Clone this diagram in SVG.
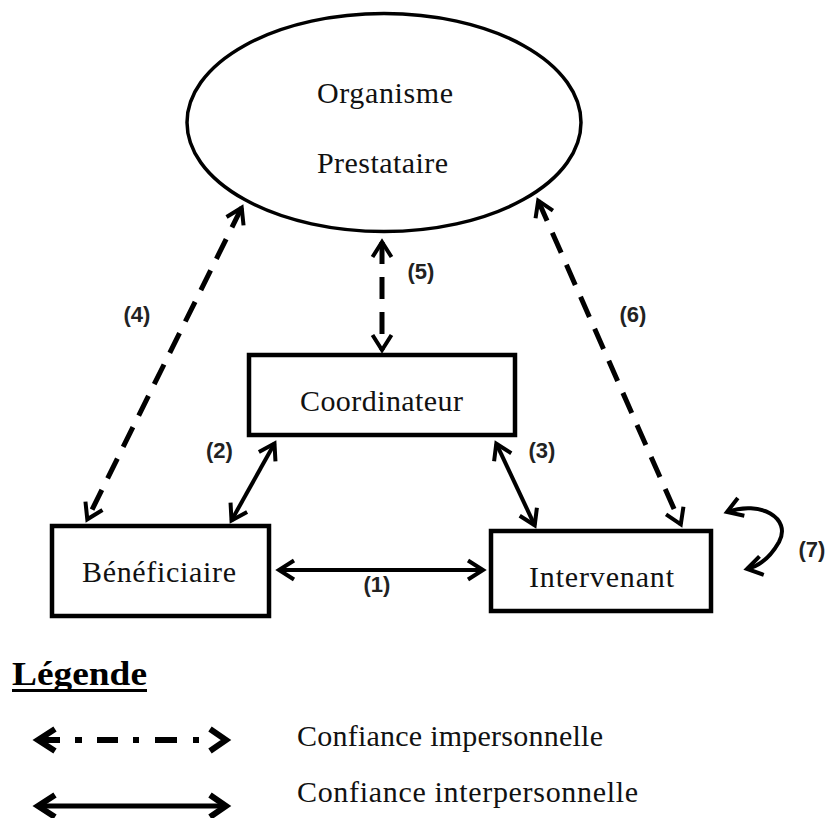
<svg xmlns="http://www.w3.org/2000/svg" width="829" height="818" viewBox="0 0 829 818">
  <style>
    .shape { fill: #ffffff; stroke: #000000; }
    .box { stroke-width: 4.5; }
    .node-text { font-family: "Liberation Serif", "Times New Roman", serif; font-size: 30px; fill: #111111; }
    .label { font-family: "Liberation Sans", Arial, sans-serif; font-size: 22px; font-weight: bold; fill: #222222; text-anchor: middle; }
    .solid { fill: none; stroke: #000000; stroke-width: 4; }
    .dashed { fill: none; stroke: #000000; stroke-width: 5; stroke-dasharray: 22 13; }
    .legend-text { font-family: "Liberation Serif", "Times New Roman", serif; font-size: 30px; fill: #111111; }
    .legend-title { font-family: "Liberation Serif", "Times New Roman", serif; font-size: 33px; font-weight: bold; fill: #000000; }
    .legend-line { fill: none; stroke: #000000; stroke-width: 6; stroke-linejoin: miter; }
  </style>
  <defs>
    <marker id="head" viewBox="0 0 22 22" markerWidth="22" markerHeight="22" refX="17" refY="11" orient="auto-start-reverse" markerUnits="userSpaceOnUse" overflow="visible">
      <path d="M2,1.5 L17,11 L2,20.5" fill="none" stroke="#000000" stroke-width="4" stroke-linejoin="miter"/>
    </marker>
  </defs>

  <g id="organisme-prestataire">
    <ellipse class="shape" cx="384" cy="122.5" rx="197" ry="109" stroke-width="3.5"/>
    <text class="node-text" x="317" y="103" textLength="136" lengthAdjust="spacing">Organisme</text>
    <text class="node-text" x="317" y="173" textLength="131" lengthAdjust="spacing">Prestataire</text>
  </g>

  <g id="coordinateur">
    <rect class="shape box" x="249" y="355" width="266" height="80"/>
    <text class="node-text" x="300" y="411" textLength="163" lengthAdjust="spacing">Coordinateur</text>
  </g>

  <g id="beneficiaire">
    <rect class="shape box" x="52" y="526" width="217" height="90"/>
    <text class="node-text" x="82" y="582" textLength="154" lengthAdjust="spacing">Bénéficiaire</text>
  </g>

  <g id="intervenant">
    <rect class="shape box" x="491" y="531" width="220" height="80"/>
    <text class="node-text" x="529" y="587" textLength="145" lengthAdjust="spacing">Intervenant</text>
  </g>

  <g id="connectors">
    <path class="solid" d="M279,570 L483,570" marker-start="url(#head)" marker-end="url(#head)"/>
    <path class="solid" d="M231.5,520.4 L274.5,443.6" marker-start="url(#head)" marker-end="url(#head)"/>
    <path class="solid" d="M496.3,443.7 L534.7,525.3" marker-start="url(#head)" marker-end="url(#head)"/>
    <path class="dashed" d="M241.7,207.7 L87.3,519.3" marker-start="url(#head)" marker-end="url(#head)"/>
    <path class="dashed" d="M382,242 L382,350" marker-start="url(#head)" marker-end="url(#head)"/>
    <path class="dashed" d="M538.2,200.7 L680.8,524.3" marker-start="url(#head)" marker-end="url(#head)"/>
    <path class="solid" d="M727,512 C760,500 792,518 779,542 C771,556 760,566 747,569" marker-start="url(#head)" marker-end="url(#head)"/>
    <text class="label" x="377" y="592">(1)</text>
    <text class="label" x="219.5" y="458">(2)</text>
    <text class="label" x="542" y="458">(3)</text>
    <text class="label" x="137" y="322">(4)</text>
    <text class="label" x="421" y="279">(5)</text>
    <text class="label" x="633" y="322">(6)</text>
    <text class="label" x="812" y="557">(7)</text>
  </g>

  <g id="legend">
    <text class="legend-title" x="12" y="685" textLength="135" lengthAdjust="spacingAndGlyphs">Légende</text>
    <line x1="12" y1="690.5" x2="147" y2="690.5" stroke="#000000" stroke-width="3"/>
    <polyline class="legend-line" points="55,729 38,740 55,751"/>
    <line x1="38" y1="740" x2="60" y2="740" stroke="#000000" stroke-width="6"/>
    <rect x="75" y="737" width="7" height="6" fill="#000000"/>
    <rect x="97" y="737" width="21" height="6" fill="#000000"/>
    <rect x="133" y="737" width="6" height="6" fill="#000000"/>
    <rect x="155" y="737" width="22" height="6" fill="#000000"/>
    <rect x="193" y="737" width="6" height="6" fill="#000000"/>
    <polyline class="legend-line" points="210,729 226,740 210,751"/>
    <line x1="38" y1="806" x2="225" y2="806" stroke="#000000" stroke-width="5"/>
    <polyline class="legend-line" points="55,795 38,806 55,817"/>
    <polyline class="legend-line" points="210,795 226,806 210,817"/>
    <text class="legend-text" x="297" y="746" textLength="306" lengthAdjust="spacing">Confiance impersonnelle</text>
    <text class="legend-text" x="297" y="802" textLength="341" lengthAdjust="spacing">Confiance interpersonnelle</text>
  </g>
</svg>
